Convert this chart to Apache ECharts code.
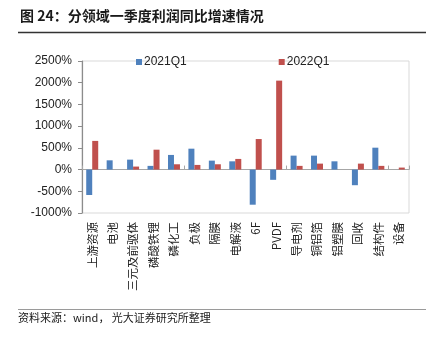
<!DOCTYPE html>
<html>
<head>
<meta charset="utf-8">
<script src="https://cdn.jsdelivr.net/npm/echarts@6/dist/echarts.min.js"></script>
<style>
  html, body { margin: 0; padding: 0; background: #fff; }
  #chart { width: 434px; height: 337px; }
</style>
</head>
<body>
<div id="chart"></div>
<script>
// Segments (x-axis categories)
const categories = ['上游资源', '电池', '三元及前驱体', '磷酸铁锂', '磷化工', '负极', '隔膜', '电解液',
  '6F', 'PVDF', '导电剂', '铜铝箔', '铝塑膜', '回收', '结构件', '设备'];
// Year-on-year profit growth, %
const growth2021Q1 = [-585, 213, 229, 85, 337, 481, 206, 190, -809, -236, 321, 321, 190, -360, 504, 0];
const growth2022Q1 = [660, 0, 69, 458, 122, 107, 122, 245, 703, 2048, 85, 137, 0, 137, 85, 46];
const seriesNames = ['2021Q1', '2022Q1'];
// Y-axis range and step
const yMin = -1000, yMax = 2500, yStep = 500;

const latin = 'Arial, "Liberation Sans", sans-serif';
const cjk = '"Noto Sans CJK SC", sans-serif';

const chart = echarts.init(document.getElementById('chart'), null, { renderer: 'canvas' });

chart.setOption({
  animation: false,
  backgroundColor: '#fff',
  graphic: [
    {
      type: 'text', left: 20, top: 9,
      style: { text: '图 24：分领域一季度利润同比增速情况', font: 'bold 14px ' + cjk, fill: '#1a1a1a' }
    },
    {
      type: 'line', shape: { x1: 18, y1: 32.5, x2: 426, y2: 32.5 },
      style: { stroke: '#333', lineWidth: 1.3 }
    },
    {
      type: 'line', shape: { x1: 18, y1: 309.5, x2: 426, y2: 309.5 },
      style: { stroke: '#9a9a9a', lineWidth: 1 }
    },
    {
      type: 'text', left: 18, top: 312,
      style: { text: '资料来源：wind， 光大证券研究所整理', font: '11px ' + cjk, fill: '#1a1a1a' }
    }
  ],
  legend: {
    data: seriesNames,
    left: 131, top: 51,
    itemWidth: 6, itemHeight: 6, itemGap: 92,
    icon: 'rect',
    textStyle: { fontFamily: latin, fontSize: 12, color: '#222', padding: [0, 0, 0, -3] }
  },
  grid: {
    left: 82, right: 25, top: 61, bottom: 124,
    show: true, borderColor: '#d9d9d9', borderWidth: 1, backgroundColor: 'transparent'
  },
  xAxis: [
    {
      type: 'category', data: categories, position: 'bottom',
      axisLine: { show: false, onZero: false },
      axisTick: { show: false },
      axisLabel: {
        rotate: 90, interval: 0, margin: 9,
        fontFamily: cjk, fontSize: 11.5, color: '#222'
      }
    },
    {
      type: 'category', data: categories, position: 'top',
      axisLine: { show: true, onZero: true, lineStyle: { color: '#a6a6a6', width: 1 } },
      axisTick: { show: true, length: 4, lineStyle: { color: '#a6a6a6' } },
      axisLabel: { show: false }
    }
  ],
  yAxis: {
    type: 'value', min: yMin, max: yMax, interval: yStep,
    axisLine: { show: true, lineStyle: { color: '#8c8c8c', width: 1.2 } },
    axisTick: { show: true, length: 4, lineStyle: { color: '#8c8c8c' } },
    splitLine: { show: false },
    axisLabel: {
      formatter: function (v) { return v + '%'; }, margin: 10,
      fontFamily: latin, fontSize: 12, color: '#222'
    }
  },
  series: [
    {
      name: seriesNames[0], type: 'bar', xAxisIndex: 0, data: growth2021Q1,
      barWidth: 6, barGap: '0%',
      itemStyle: { color: '#4F81BD' }
    },
    {
      name: seriesNames[1], type: 'bar', xAxisIndex: 0, data: growth2022Q1,
      barWidth: 6, barGap: '0%',
      itemStyle: { color: '#C0504D' }
    }
  ]
});
</script>
</body>
</html>
